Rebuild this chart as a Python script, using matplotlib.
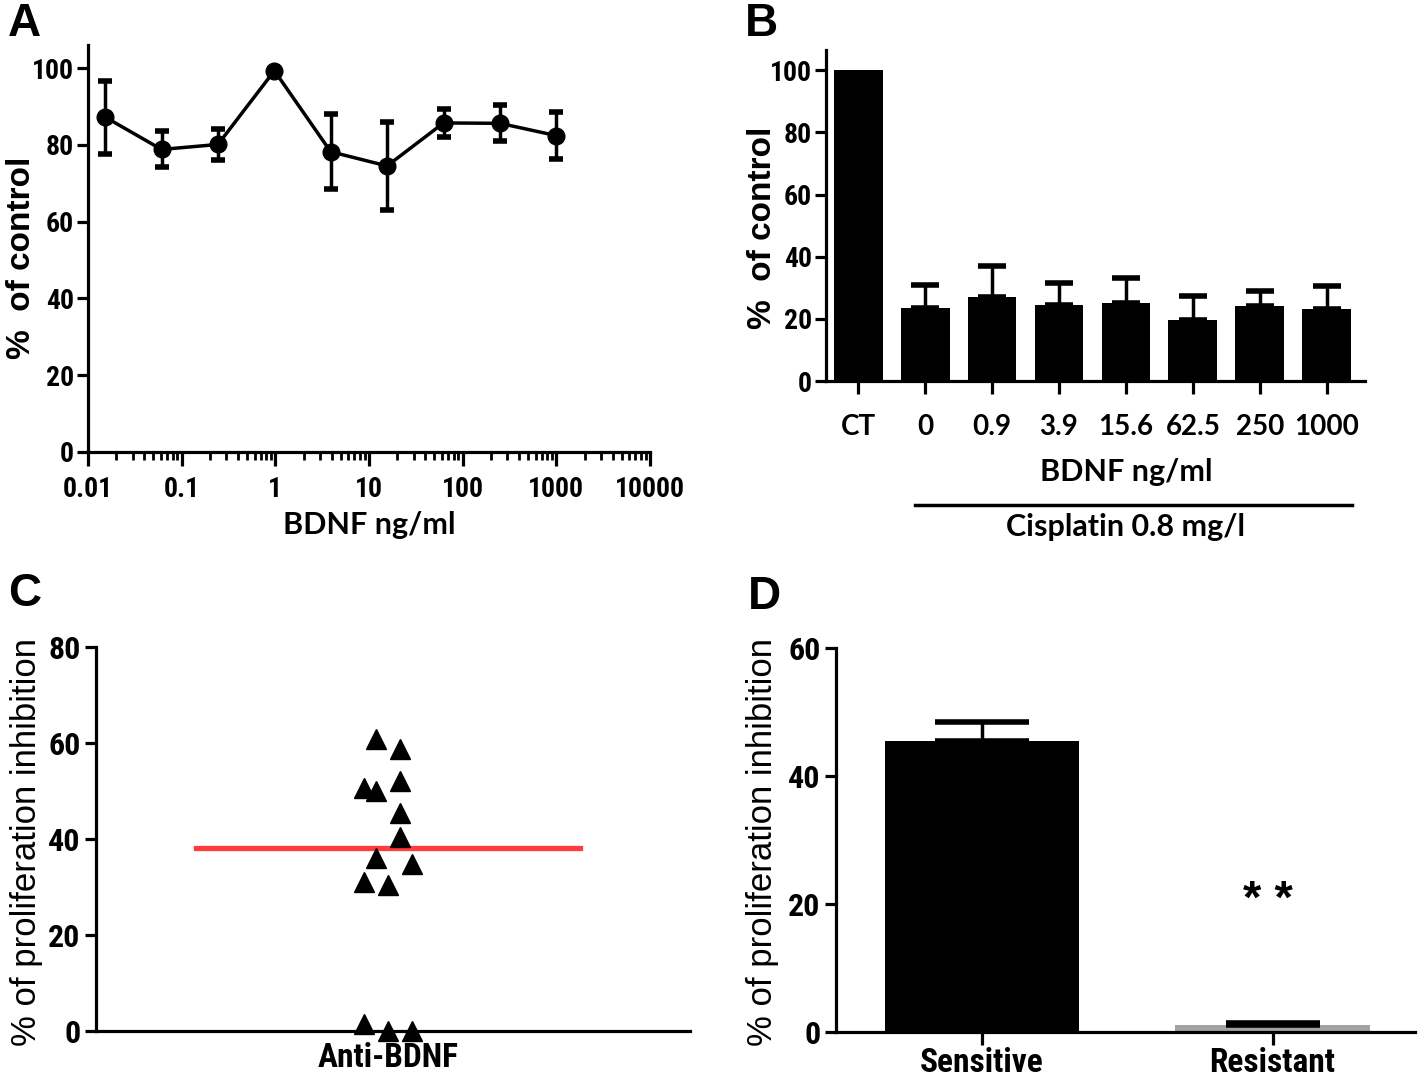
import numpy as np
import matplotlib
matplotlib.use("Agg")
import matplotlib.pyplot as plt
from matplotlib import font_manager as fm
from matplotlib.transforms import blended_transform_factory

# ---------------- data ----------------
# Panel A
a_conc = [0.0153, 0.061, 0.244, 0.977, 3.9, 15.6, 62.5, 250, 1000]
a_mean = [87.2, 78.8, 80.1, 99.3, 78.2, 74.5, 85.7, 85.6, 82.4]
a_err = [9.5, 4.7, 4.1, 0.5, 9.8, 11.4, 3.6, 4.7, 6.1]
a_ticks = [0.01, 0.1, 1, 10, 100, 1000, 10000]
a_ticklabels = ["0.01", "0.1", "1", "10", "100", "1000", "10000"]

# Panel B
b_labels = ["CT", "0", "0.9", "3.9", "15.6", "62.5", "250", "1000"]
b_mean = [100, 23.5, 27.0, 24.4, 25.0, 19.6, 24.1, 23.2]
b_err = [0, 7.4, 10.0, 7.1, 8.0, 7.7, 4.9, 7.3]

# Panel C
c_values = [60.8, 58.8, 50.6, 50.0, 52.1, 45.4, 40.4, 36.0, 34.8, 31.0, 30.4, 1.5, 0.0, 0.0]
c_jitter = [-0.04, 0.04, -0.08, -0.04, 0.04, 0.04, 0.04, -0.04, 0.08, -0.08, 0.0, -0.08, 0.0, 0.08]
c_label = ["Anti-BDNF"]

# Panel D
d_labels = ["Sensitive", "Resistant"]
d_mean = [45.5, 1.1]
d_err = [2.9, 0.35]
d_colors = ["#000000", "#a3a3a3"]

# ---------------- fonts ----------------
avail = {f.name for f in fm.fontManager.ttflist}
NARROW = "Liberation Sans"
for cand in ["Liberation Sans Narrow", "Roboto Condensed", "Open Sans Condensed"]:
    if cand in avail:
        NARROW = cand
        break
ARIAL = "Liberation Sans"
CAL = "Lato" if "Lato" in avail else "Open Sans"

W, H = 1418, 1077
fig = plt.figure(figsize=(W / 100, H / 100), dpi=100)


def rect(l, t, r, b):
    return [l / W, 1 - b / H, (r - l) / W, (b - t) / H]


def fx(x):
    return x / W


def fy(y):
    return 1 - y / H


LW = 2.3


def style(ax):
    for s in ["top", "right"]:
        ax.spines[s].set_visible(False)
    for s in ["left", "bottom"]:
        ax.spines[s].set_linewidth(LW)
    ax.tick_params(width=LW, length=8, direction="out", color="k")


tick_font = dict(family=NARROW, weight="bold", size=20)

# ---------------- Panel A ----------------
axA = fig.add_axes(rect(88, 45, 650, 452))
style(axA)
axA.set_xscale("log")
axA.errorbar(a_conc, a_mean, yerr=a_err, fmt="-o", color="k", ms=12, lw=2.5,
             elinewidth=2.5, capsize=5, capthick=4, clip_on=False, zorder=3)
axA.set_xlim(0.01, 10000)
axA.set_ylim(0, 106)
axA.set_yticks([0, 20, 40, 60, 80, 100])
axA.set_xticks(a_ticks)
axA.set_xticklabels(a_ticklabels)
axA.tick_params(axis="x", which="major", length=10, pad=7)
axA.tick_params(axis="x", which="minor", length=6, width=2)
axA.tick_params(axis="y", pad=2)
for lab in axA.get_xticklabels() + axA.get_yticklabels():
    lab.set_fontproperties(fm.FontProperties(**tick_font))
axA.set_xlabel("BDNF ng/ml", family=CAL, weight="bold", size=22, labelpad=6)

# ---------------- Panel B ----------------
axB = fig.add_axes(rect(826, 50, 1365, 381))
style(axB)
xb = np.arange(len(b_labels))
axB.bar(xb, b_mean, width=0.73, color="k", zorder=2)
axB.errorbar(xb[1:], b_mean[1:], yerr=[np.zeros(len(xb) - 1), b_err[1:]], fmt="none",
             ecolor="k", elinewidth=2.5, capsize=10, capthick=4, zorder=1)
axB.set_xlim(-0.48, 7.57)
axB.set_ylim(0, 106.5)
axB.set_yticks([0, 20, 40, 60, 80, 100])
axB.set_xticks(xb)
axB.set_xticklabels(b_labels)
axB.tick_params(axis="x", length=9, pad=15)
axB.tick_params(axis="y", pad=2)
for lab in axB.get_yticklabels():
    lab.set_fontproperties(fm.FontProperties(**tick_font))
for lab in axB.get_xticklabels():
    lab.set_fontproperties(fm.FontProperties(family=CAL, weight="bold", size=20))
trB = blended_transform_factory(axB.transData, fig.transFigure)
axB.text(4.0, fy(472), "BDNF ng/ml", transform=trB, ha="center", va="center",
         family=CAL, weight="bold", size=22)
axB.plot([0.85, 7.37], [fy(505), fy(505)], transform=trB, color="k", lw=2.5, clip_on=False)
axB.text(4.0, fy(527), "Cisplatin 0.8 mg/l", transform=trB, ha="center", va="center",
         family=CAL, weight="bold", size=22)

# ---------------- Panel C ----------------
axC = fig.add_axes(rect(96, 647, 690, 1031))
style(axC)
xc = np.array(c_jitter)
axC.plot(xc, c_values, linestyle="none", marker="^", ms=14, color="k",
         clip_on=False, zorder=4)
med = np.median(c_values)
axC.plot([-0.646, 0.646], [med, med], color="#ff3b3b", lw=3.8, zorder=3)
axC.set_xlim(-0.983, 1.017)
axC.set_ylim(0, 80)
axC.set_yticks([0, 20, 40, 60, 80])
axC.set_xticks([0])
axC.set_xticklabels(c_label)
axC.tick_params(axis="x", length=0, pad=8)
axC.tick_params(axis="y", pad=3)
for lab in axC.get_yticklabels():
    lab.set_fontproperties(fm.FontProperties(family=NARROW, weight="bold", size=23))
for lab in axC.get_xticklabels():
    lab.set_fontproperties(fm.FontProperties(family=NARROW, weight="bold", size=24))

# ---------------- Panel D ----------------
axD = fig.add_axes(rect(836, 648, 1415, 1032))
style(axD)
xd = np.arange(len(d_labels))
axD.bar(xd, d_mean, width=0.67, color=d_colors, zorder=2)
axD.errorbar(xd, d_mean, yerr=[np.zeros(len(xd)), d_err], fmt="none", ecolor="k",
             elinewidth=2.5, capsize=34, capthick=4, zorder=3)
axD.text(xd[1] - 0.015, 20.5, "* *", ha="center", va="center", family=ARIAL,
         weight="bold", size=34)
axD.set_xlim(-0.502, 1.49)
axD.set_ylim(0, 60)
axD.set_yticks([0, 20, 40, 60])
axD.set_xticks(xd)
axD.set_xticklabels(d_labels)
axD.tick_params(axis="x", length=9, pad=2)
axD.tick_params(axis="y", pad=3)
for lab in axD.get_yticklabels():
    lab.set_fontproperties(fm.FontProperties(family=NARROW, weight="bold", size=23))
for lab in axD.get_xticklabels():
    lab.set_fontproperties(fm.FontProperties(family=NARROW, weight="bold", size=24))

# ---------------- labels ----------------
fig.text(fx(22), fy(258), "%  of control", rotation=90, ha="center", va="center",
         family=ARIAL, weight="bold", size=24)
fig.text(fx(762), fy(228), "%  of control", rotation=90, ha="center", va="center",
         family=ARIAL, weight="bold", size=24)
fig.text(fx(27), fy(842), "% of proliferation inhibition", rotation=90, ha="center",
         va="center", family=ARIAL, size=25)
fig.text(fx(762), fy(842), "% of proliferation inhibition", rotation=90, ha="center",
         va="center", family=ARIAL, size=25)

for letter, x, y in [("A", 8, 2), ("B", 745, 2), ("C", 8, 572), ("D", 748, 575)]:
    fig.text(fx(x), fy(y), letter, ha="left", va="top", family=ARIAL, weight="bold", size=33)

fig.savefig("out.png", dpi=100)
